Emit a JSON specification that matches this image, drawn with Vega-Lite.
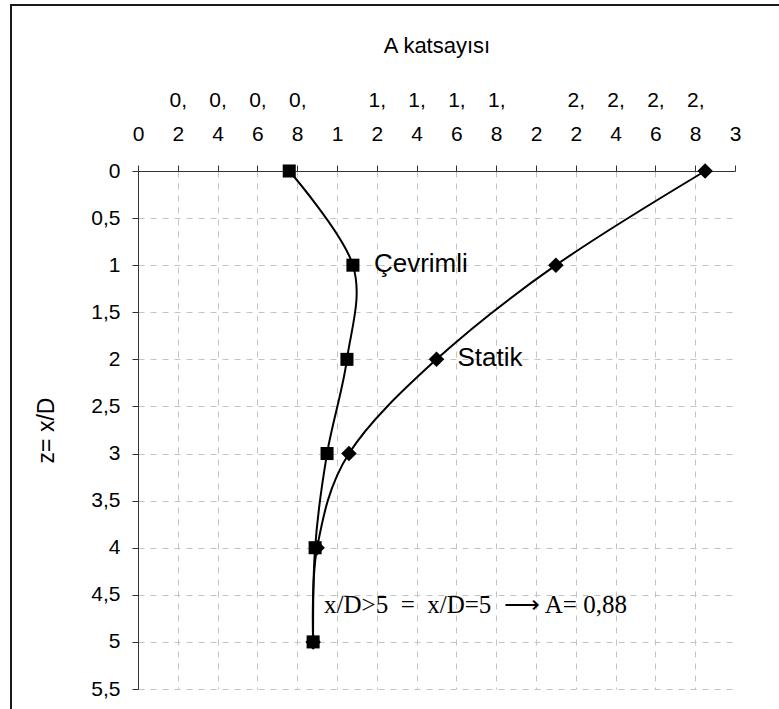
{
  "$schema": "https://vega.github.io/schema/vega-lite/v6.json",
  "width": 597,
  "height": 518,
  "autosize": {"type": "none"},
  "padding": {"left": 138, "top": 171, "right": 44, "bottom": 20},
  "background": "white",
  "config": {
    "view": {"stroke": null},
    "font": "Liberation Sans"
  },
  "datasets": {
    "olcum": [
      {"seri": "Statik", "z": 0, "A": 2.85},
      {"seri": "Statik", "z": 1, "A": 2.10},
      {"seri": "Statik", "z": 2, "A": 1.50},
      {"seri": "Statik", "z": 3, "A": 1.06},
      {"seri": "Statik", "z": 4, "A": 0.90},
      {"seri": "Statik", "z": 5, "A": 0.88},
      {"seri": "Çevrimli", "z": 0, "A": 0.76},
      {"seri": "Çevrimli", "z": 1, "A": 1.08},
      {"seri": "Çevrimli", "z": 2, "A": 1.05},
      {"seri": "Çevrimli", "z": 3, "A": 0.95},
      {"seri": "Çevrimli", "z": 4, "A": 0.89},
      {"seri": "Çevrimli", "z": 5, "A": 0.88}
    ]
  },
  "data": {"name": "olcum"},
  "layer": [
    {
      "description": "outer frame, left edge",
      "mark": {"type": "rule", "clip": false, "color": "#1a1a1a", "strokeWidth": 1.5},
      "encoding": {
        "x": {"datum": -0.638, "type": "quantitative", "scale": {"domain": [0, 3], "nice": false, "zero": false}},
        "y": {"datum": -1.765, "type": "quantitative", "scale": {"domain": [0, 5.5], "nice": false, "zero": false, "reverse": true}},
        "y2": {"datum": 6}
      }
    },
    {
      "description": "outer frame, top edge",
      "mark": {"type": "rule", "clip": false, "color": "#1a1a1a", "strokeWidth": 1.5},
      "encoding": {
        "x": {"datum": -0.638, "type": "quantitative", "scale": {"domain": [0, 3], "nice": false, "zero": false}},
        "x2": {"datum": 3.5},
        "y": {"datum": -1.765, "type": "quantitative", "scale": {"domain": [0, 5.5], "nice": false, "zero": false, "reverse": true}}
      }
    },
    {
      "mark": {"type": "line", "interpolate": "cardinal", "color": "black", "strokeWidth": 2},
      "encoding": {
        "x": {
          "field": "A", "type": "quantitative",
          "scale": {"domain": [0, 3], "nice": false, "zero": false},
          "axis": {
            "orient": "top",
            "title": "A katsayısı",
            "titleFontSize": 22,
            "titleFontWeight": "normal",
            "titleColor": "black",
            "titlePadding": 32,
            "values": [0, 0.2, 0.4, 0.6, 0.8, 1, 1.2, 1.4, 1.6, 1.8, 2, 2.2, 2.4, 2.6, 2.8, 3],
            "tickCount": 30,
            "labelExpr": "datum.value == floor(datum.value) ? ['', toString(datum.value)] : [split(toString(datum.value), '.')[0] + ',', split(toString(datum.value), '.')[1]]",
            "labelFontSize": 21,
            "labelColor": "black",
            "labelBaseline": "alphabetic",
            "labelLineHeight": 34,
            "labelPadding": 59,
            "labelOverlap": false,
            "labelBound": false,
            "labelFlush": false,
            "tickSize": 6,
            "tickColor": "#333",
            "domainColor": "#333",
            "grid": true,
            "gridColor": "#c4c4c4",
            "gridDash": [6, 6],
            "gridOpacity": {"condition": {"test": "datum.value == 0 || datum.value == 3", "value": 0}, "value": 1}
          }
        },
        "y": {
          "field": "z", "type": "quantitative",
          "scale": {"domain": [0, 5.5], "nice": false, "zero": false, "reverse": true},
          "axis": {
            "title": "z= x/D",
            "titleFontSize": 23,
            "titleFontWeight": "normal",
            "titleColor": "black",
            "titlePadding": 32,
            "values": [0, 0.5, 1, 1.5, 2, 2.5, 3, 3.5, 4, 4.5, 5, 5.5],
            "tickCount": 30,
            "labelExpr": "replace(toString(datum.value), '.', ',')",
            "labelFontSize": 21,
            "labelColor": "black",
            "labelPadding": 12,
            "labelOverlap": false,
            "labelBound": false,
            "labelFlush": false,
            "tickSize": 6,
            "tickColor": "#333",
            "domainColor": "#333",
            "grid": true,
            "gridColor": "#c4c4c4",
            "gridDash": [6, 6],
            "gridOpacity": {"condition": {"test": "datum.value == 0", "value": 0}, "value": 1}
          }
        },
        "detail": {"field": "seri"},
        "order": {"field": "z"}
      }
    },
    {
      "mark": {"type": "point", "filled": true, "color": "black", "opacity": 1},
      "encoding": {
        "x": {"field": "A", "type": "quantitative", "scale": {"domain": [0, 3], "nice": false, "zero": false}},
        "y": {"field": "z", "type": "quantitative", "scale": {"domain": [0, 5.5], "nice": false, "zero": false, "reverse": true}},
        "shape": {"field": "seri", "type": "nominal", "scale": {"domain": ["Statik", "Çevrimli"], "range": ["diamond", "square"]}, "legend": null},
        "size": {"field": "seri", "type": "nominal", "scale": {"domain": ["Statik", "Çevrimli"], "range": [240, 170]}, "legend": null},
        "order": {"field": "seri", "sort": "descending"}
      }
    },
    {
      "transform": [{"filter": "(datum.seri == 'Çevrimli' && datum.z == 1) || (datum.seri == 'Statik' && datum.z == 2)"}],
      "mark": {"type": "text", "align": "left", "baseline": "middle", "dx": 21, "dy": -1, "fontSize": 26, "color": "black"},
      "encoding": {
        "x": {"field": "A", "type": "quantitative", "scale": {"domain": [0, 3], "nice": false, "zero": false}},
        "y": {"field": "z", "type": "quantitative", "scale": {"domain": [0, 5.5], "nice": false, "zero": false, "reverse": true}},
        "text": {"field": "seri"}
      }
    },
    {
      "data": {"values": [{"not": "x/D>5\u2002=\u2002x/D=5\u2002⟶ A= 0,88"}]},
      "mark": {"type": "text", "align": "left", "baseline": "middle", "font": "Liberation Serif", "fontSize": 25, "color": "black"},
      "encoding": {
        "x": {"datum": 0.935, "type": "quantitative", "scale": {"domain": [0, 3], "nice": false, "zero": false}},
        "y": {"datum": 4.61, "type": "quantitative", "scale": {"domain": [0, 5.5], "nice": false, "zero": false, "reverse": true}},
        "text": {"field": "not"}
      }
    }
  ]
}
